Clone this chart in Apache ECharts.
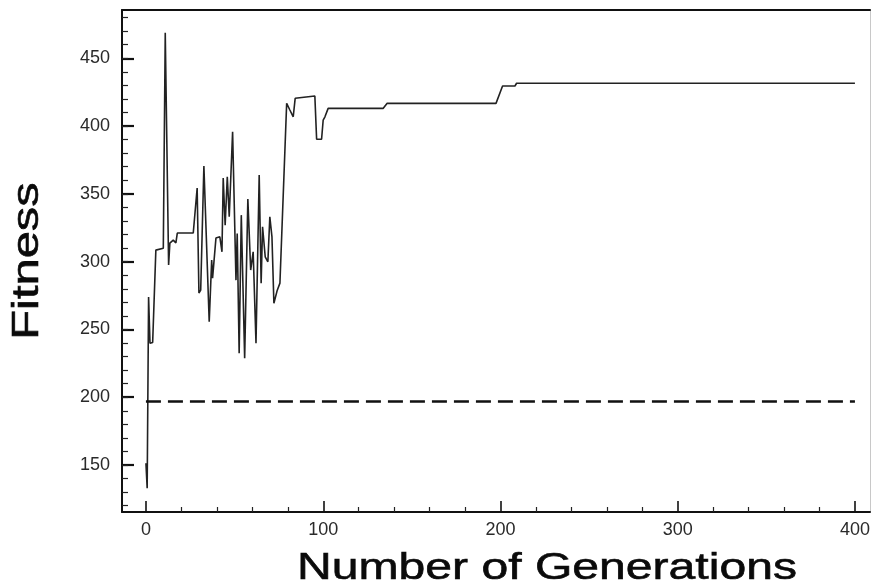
<!DOCTYPE html>
<html>
<head>
<meta charset="utf-8">
<script src="https://cdn.jsdelivr.net/npm/echarts@6/dist/echarts.min.js"></script>
<style>
  html, body { margin: 0; padding: 0; background: #fff; }
  #main { width: 875px; height: 588px; }
</style>
</head>
<body>
<div id="main"></div>
<script>
// values
var generations = [0, 0.7, 1.5, 2.3, 3.8, 5.6, 9.8, 10.9, 12.8, 13.5, 15.4, 16.9, 17.7, 26.7, 28.9,
    29.9, 30.9, 32.7, 35.7, 37.1, 37.6, 39.5, 41.7, 42.9, 43.6, 44.7, 45.9, 47.0, 48.9, 50.8,
    51.5, 52.6, 53.8, 55.7, 57.5, 59.1, 60.5, 62.1, 63.9, 65.0, 65.8, 67.3, 68.8, 69.9, 71.1,
    72.2, 74.1, 75.6, 79.4, 81.2, 83.1, 84.2, 95.3, 96.3, 99.1, 100.0, 101.0, 102.8, 133.9, 136.1,
    197.5, 201.2, 208.2, 209.1, 400];
var fitness = [151.6, 133.2, 274, 240, 240.5, 308.6, 310, 468.9, 297.6, 313.8, 316, 314, 321.2, 321.2, 354.4,
    277, 279.1, 370.6, 255.8, 301.3, 288, 317.5, 318.4, 307.4, 361.7, 327, 362.7, 333.2, 395.9, 286.5,
    320.9, 232.7, 334.4, 229, 346.2, 293.9, 307.4, 240, 363.9, 284.3, 325.8, 303.7, 300, 333.2, 318.4,
    269.5, 279.1, 284.3, 416.8, 411.9, 406.9, 420.5, 422.2, 390.3, 390.3, 404.5, 406.9, 413.1, 413.1, 416.8,
    416.8, 429.6, 429.6, 431.6, 431.6];

// dashed reference level
var baselineGen = [0, 400];
var baselineFit = [197, 197];

var xTicks = [0, 100, 200, 300, 400];
var yTicks = [150, 200, 250, 300, 350, 400, 450];
var yMinorRange = [120, 480];

var myChart = echarts.init(document.getElementById('main'));

var fitData = generations.map(function(g, i) { return [g, fitness[i]]; });
var baseData = baselineGen.map(function(g, i) { return [g, baselineFit[i]]; });

var font = 'Liberation Sans, Arial, Helvetica, sans-serif';
var hidden = { show: false };

option = {
    animation: false,
    backgroundColor: '#fff',
    grid: [
        // plot frame
        { left: 122, top: 10, width: 748, height: 502, outerBoundsMode: 'none' },
        // x ticks: 0..400
        { left: 146, top: 10, width: 709, height: 502, outerBoundsMode: 'none' },
        // y major ticks: 150..450
        { left: 122, top: 58.3, width: 748, height: 406.7, outerBoundsMode: 'none' },
        // y minor ticks: 120..480
        { left: 122, top: 17.6, width: 748, height: 488.1, outerBoundsMode: 'none' }
    ],
    xAxis: [{
        type: 'value', gridIndex: 0, position: 'bottom',
        min: -13.5, max: 408.5,
        axisLine: { show: true, onZero: false, lineStyle: { color: '#111', width: 2 } },
        axisTick: hidden, axisLabel: hidden, splitLine: hidden
    }, {
        type: 'value', gridIndex: 0, position: 'top',
        min: -13.5, max: 408.5,
        axisLine: { show: true, onZero: false, lineStyle: { color: '#111', width: 2 } },
        axisTick: hidden, axisLabel: hidden, splitLine: hidden
    }, {
        type: 'value', gridIndex: 1, position: 'bottom',
        min: xTicks[0], max: xTicks[xTicks.length - 1], interval: 100,
        axisLine: { show: false, onZero: false },
        axisTick: { show: true, inside: true, length: 11, lineStyle: { color: '#111', width: 1.6 } },
        minorTick: { show: true, splitNumber: 5, length: 5, lineStyle: { color: '#222', width: 1.2 } },
        axisLabel: { show: true, margin: 9, fontSize: 18, fontFamily: font, color: '#2a2a2a' },
        splitLine: hidden
    }, {
        type: 'value', gridIndex: 2, show: false
    }, {
        type: 'value', gridIndex: 3, show: false
    }],
    yAxis: [{
        type: 'value', gridIndex: 0, position: 'left',
        min: 115.6, max: 485.6,
        axisLine: { show: true, onZero: false, lineStyle: { color: '#111', width: 2 } },
        axisTick: hidden, axisLabel: hidden, splitLine: hidden
    }, {
        type: 'value', gridIndex: 0, position: 'right',
        min: 115.6, max: 485.6,
        axisLine: { show: true, onZero: false, lineStyle: { color: '#c8c8c8', width: 1 } },
        axisTick: hidden, axisLabel: hidden, splitLine: hidden
    }, {
        type: 'value', gridIndex: 1, show: false
    }, {
        type: 'value', gridIndex: 2, position: 'left',
        min: yTicks[0], max: yTicks[yTicks.length - 1], interval: 50,
        axisLine: { show: false, onZero: false },
        axisTick: { show: true, inside: true, length: 12, lineStyle: { color: '#111', width: 2.2 } },
        axisLabel: { show: true, margin: 12, fontSize: 18, fontFamily: font, color: '#2a2a2a' },
        splitLine: hidden
    }, {
        type: 'value', gridIndex: 3, position: 'left',
        min: yMinorRange[0], max: yMinorRange[1], interval: 10,
        axisLine: { show: false, onZero: false },
        axisTick: { show: true, inside: true, length: 6, lineStyle: { color: '#222', width: 1.2 } },
        axisLabel: hidden, splitLine: hidden
    }],
    graphic: [{
        type: 'text',
        x: 547, y: 569,
        scaleX: 1.3,
        style: {
            text: 'Number of Generations',
            fill: '#0a0a0a',
            font: '37px ' + font,
            align: 'center',
            verticalAlign: 'middle',
            stroke: '#0a0a0a',
            lineWidth: 0.6
        }
    }, {
        type: 'text',
        x: 28, y: 261,
        rotation: Math.PI / 2,
        scaleX: 1.32,
        style: {
            text: 'Fitness',
            fill: '#0a0a0a',
            font: '37px ' + font,
            align: 'center',
            verticalAlign: 'middle',
            stroke: '#0a0a0a',
            lineWidth: 0.6
        }
    }],
    series: [{
        name: 'fitness',
        type: 'line',
        xAxisIndex: 0,
        yAxisIndex: 0,
        data: fitData,
        symbol: 'none',
        lineStyle: { color: '#222', width: 1.6 }
    }, {
        name: 'baseline',
        type: 'line',
        xAxisIndex: 0,
        yAxisIndex: 0,
        data: baseData,
        symbol: 'none',
        lineStyle: { color: '#111', width: 2.5, type: [15, 7] }
    }]
};

myChart.setOption(option);
</script>
</body>
</html>
